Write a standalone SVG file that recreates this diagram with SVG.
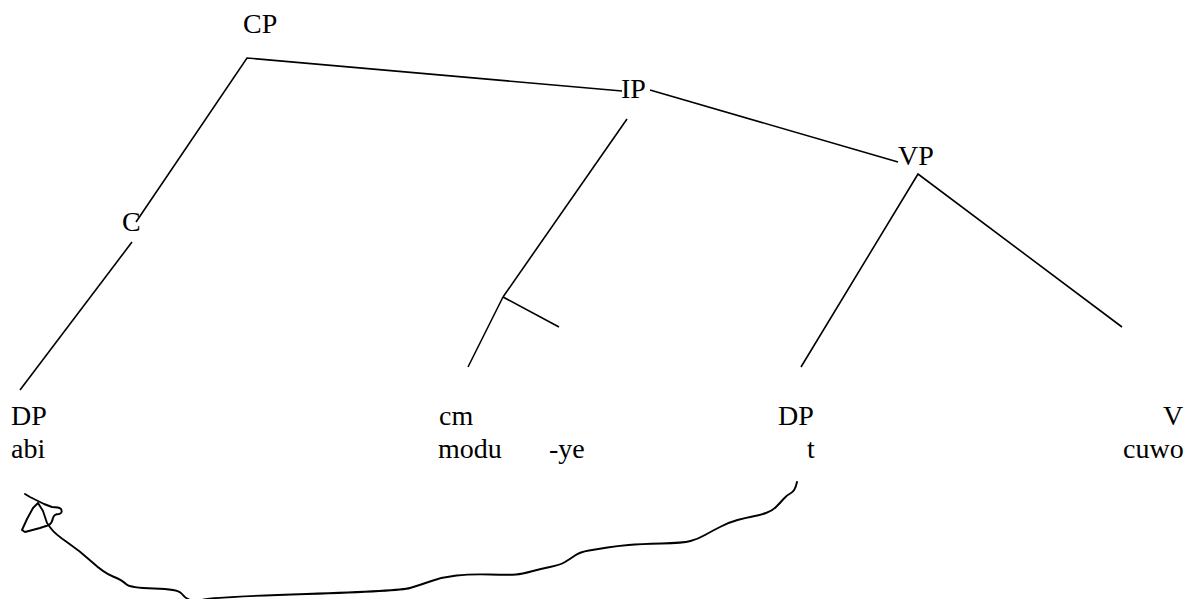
<svg xmlns="http://www.w3.org/2000/svg" width="1188" height="599" viewBox="0 0 1188 599">
<style>
.lbl{font-family:"Liberation Serif","Times New Roman",serif;font-size:28px;fill:#000}
.edge{stroke:#000;stroke-width:1.6;fill:none;stroke-linecap:butt}
.move{stroke:#000;stroke-width:1.9;fill:none;stroke-linejoin:round;stroke-linecap:round}
</style>
<rect width="1188" height="599" fill="#fff"/>
<g id="connectors">
<polyline class="edge" points="136,222 247,58 622,91"/>
<line class="edge" x1="650" y1="90" x2="898" y2="162"/>
<line class="edge" x1="132" y1="242" x2="20" y2="390"/>
<line class="edge" x1="627" y1="119" x2="503" y2="297"/>
<line class="edge" x1="503" y1="297" x2="468" y2="367"/>
<line class="edge" x1="503" y1="297" x2="559" y2="327"/>
<polyline class="edge" points="801,367 918,174 1122,327"/>
<path class="move" d="M797,482 Q795,491 791,493 Q787,495 783.5,499 Q780,503 776,507 Q772,511 766,513 Q760,515 752.5,516.5 Q745,518 737.5,520 Q730,522 721,526.5 Q712,531 705,535 Q698,539 690.5,541 Q683,543 661.5,543.5 Q640,544 628.5,545 Q617,546 607.5,547.5 Q598,549 589,550.5 Q580,552 575,555.5 Q570,559 565,562 Q560,565 550,567 Q540,569 531,571.5 Q522,574 516,574.5 Q510,575 490,574.5 Q470,574 456.5,575.5 Q443,577 431.5,581 Q420,585 410,588 Q400,591 306.5,594 Q213,597 204,599.5 Q195,602 190,600 Q185,598 181.5,593.5 Q178,589 154,588.5 Q130,588 126,584 Q122,580 113,576.5 Q104,573 92,562 Q80,551 67.5,542.5 Q55,534 51,528.5 L47,523 L43,511 L38,503 L33,508 L27,519 L22,530 L25,532 L40,528 L49,525 Q52,523 53,518 Q54,514 59,514 Q63,513 61,509 Q59,507 52,507 L44,504 L36,500 L30,497 L25,494"/>
</g>
<g id="node-CP"><text class="lbl" x="243" y="33">CP</text></g>
<g id="node-IP"><text class="lbl" x="621" y="98">IP</text></g>
<g id="node-C"><text class="lbl" x="122" y="231">C</text></g>
<g id="node-VP"><text class="lbl" x="898" y="165">VP</text></g>
<g id="node-DP1"><text class="lbl" x="11" y="425">DP</text><text class="lbl" x="11" y="458">abi</text></g>
<g id="node-cm"><text class="lbl" x="439" y="425">cm</text><text class="lbl" x="438" y="458">modu</text><text class="lbl" x="549" y="458">-ye</text></g>
<g id="node-DP2"><text class="lbl" x="778" y="425">DP</text><text class="lbl" x="807" y="458">t</text></g>
<g id="node-V"><text class="lbl" x="1163" y="425">V</text><text class="lbl" x="1123" y="458">cuwo</text></g>
</svg>
